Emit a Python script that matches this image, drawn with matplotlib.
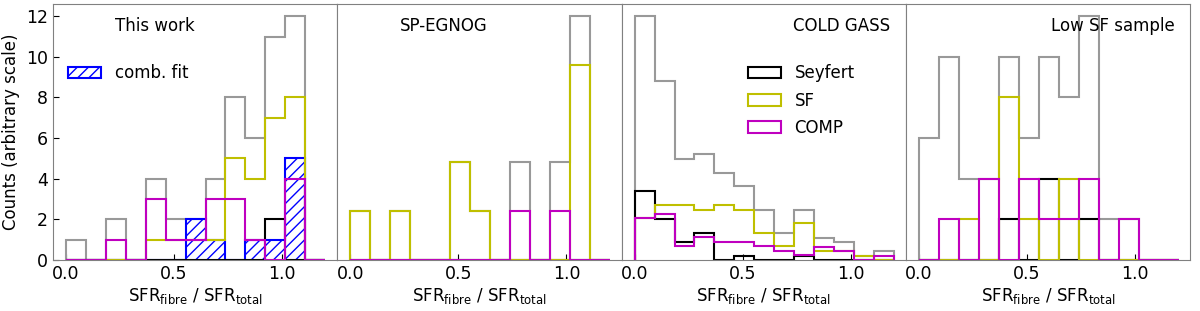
import numpy as np
import matplotlib
matplotlib.use('Agg')
import matplotlib.pyplot as plt

matplotlib.rcParams.update({'font.size': 12})

# bin edges shared by all panels
edges = np.linspace(0, 1.2, 14)

panel_names = ['This work', 'SP-EGNOG', 'COLD GASS', 'Low SF sample']

# counts per bin (arbitrary scale)
all_counts = [
    [1, 0, 2, 0, 4, 2, 2, 4, 8, 6, 11, 12, 0],
    [2.4, 0, 2.4, 0, 0, 4.8, 2.4, 0, 4.8, 0, 4.8, 12, 0],
    [12, 8.8, 4.95, 5.2, 4.26, 3.64, 2.46, 1.34, 2.46, 1.1, 0.87, 0.2, 0.45],
    [6, 10, 4, 4, 10, 6, 10, 8, 12, 2, 2, 0, 0],
]
seyfert_counts = [
    [0, 0, 0, 0, 0, 0, 0, 0, 0, 0, 2, 0, 0],
    [0, 0, 0, 0, 0, 0, 0, 0, 0, 0, 0, 0, 0],
    [3.39, 2.0, 0.9, 1.34, 0, 0.2, 0, 0, 0.2, 0, 0, 0, 0],
    [0, 0, 0, 0, 2, 0, 4, 0, 2, 0, 0, 0, 0],
]
sf_counts = [
    [0, 0, 0, 0, 1, 1, 1, 1, 5, 4, 7, 8, 0],
    [2.4, 0, 2.4, 0, 0, 4.8, 2.4, 0, 0, 0, 0, 9.6, 0],
    [2.05, 2.7, 2.7, 2.46, 2.7, 2.46, 1.34, 0.7, 1.8, 0.45, 0.45, 0.2, 0],
    [0, 0, 2, 0, 8, 2, 0, 4, 0, 0, 0, 0, 0],
]
comp_counts = [
    [0, 0, 1, 0, 3, 1, 1, 3, 3, 1, 0, 4, 0],
    [0, 0, 0, 0, 0, 0, 0, 0, 2.4, 0, 2.4, 0, 0],
    [2.05, 2.26, 0.68, 1.15, 0.9, 0.9, 0.68, 0.45, 0.23, 0.65, 0.45, 0, 0.2],
    [0, 2, 0, 4, 0, 4, 2, 2, 4, 0, 2, 0, 0],
]
# combined fit (This work only)
comb_fit = [0, 0, 0, 0, 0, 0, 2, 1, 0, 1, 1, 5, 0]

xlabel = 'SFR$_\\mathregular{fibre}$ / SFR$_\\mathregular{total}$'

fig, axes = plt.subplots(1, 4, figsize=(12, 3.11), dpi=100, sharey=True)
fig.subplots_adjust(left=0.044, right=0.992, bottom=0.164, top=0.987, wspace=0)

centers = edges[:-1]
for i, ax in enumerate(axes):
    ax.hist(centers, bins=edges, weights=all_counts[i], histtype='step', color='0.6', lw=1.5)
    if i == 0:
        ax.hist(centers, bins=edges, weights=comb_fit, histtype='step', color='b',
                hatch='///', lw=1.5, label='comb. fit')
    ax.hist(centers, bins=edges, weights=seyfert_counts[i], histtype='step', color='k', lw=1.5, label='Seyfert')
    ax.hist(centers, bins=edges, weights=sf_counts[i], histtype='step', color='y', lw=1.5, label='SF')
    ax.hist(centers, bins=edges, weights=comp_counts[i], histtype='step', color='m', lw=1.5, label='COMP')

    ax.set_xlim(-0.06, 1.255)
    ax.set_ylim(0, 12.6)
    ax.set_xticks([0.0, 0.5, 1.0])
    ax.set_xlabel(xlabel, fontsize=12, labelpad=2)
    ax.tick_params(direction='in', labelsize=12.5, length=4)
    for sp in ax.spines.values():
        sp.set_color('0.5')
    if i > 0:
        ax.tick_params(left=False)
    if i < 2:
        ax.text(0.22, 0.915, panel_names[i], transform=ax.transAxes, ha='left', va='center', fontsize=12)
    else:
        ax.text(0.945, 0.915, panel_names[i], transform=ax.transAxes, ha='right', va='center', fontsize=12)

axes[0].set_ylabel('Counts (arbitrary scale)', fontsize=12)
axes[0].set_yticks(range(0, 13, 2))

h, l = axes[0].get_legend_handles_labels()
axes[0].legend([h[0]], [l[0]], loc='upper left', bbox_to_anchor=(0.03, 0.79),
               frameon=False, fontsize=12, borderaxespad=0)
h, l = axes[2].get_legend_handles_labels()
axes[2].legend(h, l, loc='upper left', bbox_to_anchor=(0.42, 0.79),
               frameon=False, fontsize=12, borderaxespad=0, labelspacing=0.55)

plt.savefig('out.png')
